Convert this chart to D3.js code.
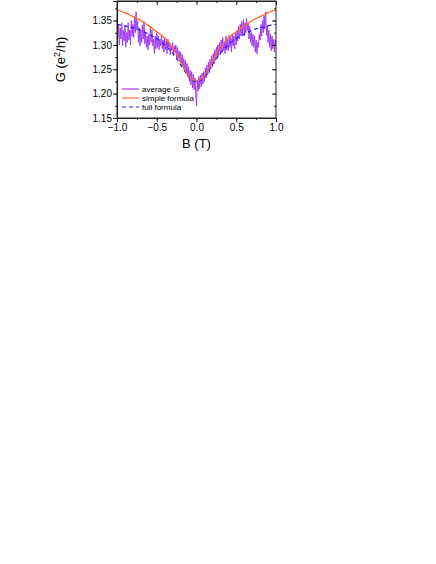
<!DOCTYPE html>
<html lang="en">
<head>
    <meta charset="UTF-8">
    <title>G vs B</title>
    <script src="https://d3js.org/d3.v7.min.js"></script>
    <style>
        body { margin: 0; background: #fff; font-family: "Liberation Sans", Arial, sans-serif; }
        .tick text { font-size: 10px; fill: #000; }
        .axis path, .axis line { stroke: #222; }
    </style>
</head>
<body>
<script>
    // measured trace, one value every 0.01 T from -1 to 1
    const bStep = 0.01;
    const avgG = [
        1.388, 1.315, 1.342, 1.300, 1.335, 1.312, 1.345, 1.298, 1.330, 1.308,
        1.338, 1.295, 1.325, 1.305, 1.345, 1.310, 1.330, 1.300, 1.350, 1.318,
        1.342, 1.315, 1.358, 1.325, 1.368, 1.330, 1.348, 1.305, 1.335, 1.298,
        1.330, 1.305, 1.340, 1.312, 1.348, 1.302, 1.325, 1.295, 1.318, 1.290,
        1.322, 1.300, 1.338, 1.305, 1.330, 1.298, 1.312, 1.282, 1.318, 1.292,
        1.325, 1.295, 1.318, 1.290, 1.312, 1.298, 1.320, 1.292, 1.310, 1.285,
        1.315, 1.290, 1.308, 1.282, 1.312, 1.295, 1.305, 1.280, 1.300, 1.288,
        1.305, 1.278, 1.298, 1.285, 1.300, 1.270, 1.295, 1.272, 1.288, 1.265,
        1.285, 1.258, 1.280, 1.255, 1.272, 1.245, 1.268, 1.240, 1.262, 1.235,
        1.255, 1.225, 1.248, 1.218, 1.245, 1.212, 1.240, 1.208, 1.232, 1.200,
        1.175, 1.228, 1.205, 1.235, 1.210, 1.238, 1.215, 1.242, 1.220, 1.245,
        1.225, 1.252, 1.232, 1.258, 1.238, 1.265, 1.242, 1.270, 1.250, 1.278,
        1.255, 1.282, 1.262, 1.290, 1.268, 1.295, 1.272, 1.300, 1.278, 1.305,
        1.280, 1.310, 1.285, 1.315, 1.288, 1.305, 1.282, 1.318, 1.290, 1.312,
        1.288, 1.320, 1.295, 1.315, 1.285, 1.322, 1.298, 1.318, 1.292, 1.325,
        1.300, 1.330, 1.308, 1.338, 1.312, 1.342, 1.318, 1.348, 1.322, 1.352,
        1.318, 1.345, 1.325, 1.355, 1.330, 1.345, 1.312, 1.338, 1.305, 1.325,
        1.298, 1.322, 1.295, 1.318, 1.285, 1.310, 1.282, 1.305, 1.295, 1.322,
        1.310, 1.342, 1.318, 1.350, 1.325, 1.360, 1.332, 1.368, 1.320, 1.340,
        1.305, 1.330, 1.295, 1.322, 1.288, 1.318, 1.292, 1.312, 1.285, 1.310, 1.300
    ];

    // model curves
    const fitB = [-1.0, -0.9, -0.8, -0.7, -0.6, -0.5, -0.4, -0.35, -0.3, -0.25, -0.2, -0.15, -0.1, -0.05, 0.0,
                  0.05, 0.1, 0.15, 0.2, 0.25, 0.3, 0.35, 0.4, 0.5, 0.6, 0.7, 0.8, 0.9, 1.0];
    const simpleG = [1.372, 1.366, 1.358, 1.350, 1.339, 1.327, 1.314, 1.305, 1.294, 1.281, 1.265, 1.250, 1.237, 1.229, 1.227,
                     1.229, 1.237, 1.250, 1.265, 1.281, 1.294, 1.305, 1.314, 1.327, 1.339, 1.350, 1.358, 1.366, 1.372];
    const fullG = [1.342, 1.339, 1.335, 1.330, 1.322, 1.313, 1.300, 1.292, 1.283, 1.272, 1.259, 1.247, 1.235, 1.227, 1.224,
                   1.227, 1.235, 1.247, 1.259, 1.272, 1.283, 1.292, 1.300, 1.313, 1.322, 1.330, 1.335, 1.339, 1.342];

    const xTicks = [-1.0, -0.5, 0.0, 0.5, 1.0];
    const yTicks = [1.15, 1.20, 1.25, 1.30, 1.35];

    const W = 436, H = 564;
    const m = {left: 117, right: 160, top: 1, bottom: 446};

    const svg = d3.select("body").append("svg")
        .attr("width", W).attr("height", H);

    const x = d3.scaleLinear().domain([-1, 1]).range([m.left, W - m.right]);
    const y = d3.scaleLinear().domain([1.15, 1.39]).range([H - m.bottom, m.top]);

    const avgData = avgG.map((g, i) => ({b: -1 + i * bStep, g: g}));
    const simpleData = fitB.map((b, i) => ({b: b, g: simpleG[i]}));
    const fullData = fitB.map((b, i) => ({b: b, g: fullG[i]}));

    svg.append("defs").append("clipPath").attr("id", "clip")
        .append("rect")
        .attr("x", x(-1)).attr("y", y(1.39))
        .attr("width", x(1) - x(-1)).attr("height", y(1.15) - y(1.39));

    const plot = svg.append("g").attr("clip-path", "url(#clip)");

    const line = d3.line().x(d => x(d.b)).y(d => y(d.g));
    const smooth = d3.line().x(d => x(d.b)).y(d => y(d.g)).curve(d3.curveMonotoneX);

    plot.append("path")
        .datum(avgData)
        .attr("d", line)
        .attr("fill", "none")
        .attr("stroke", "#a33cf5")
        .attr("stroke-width", 1);

    plot.append("path")
        .datum(fullData)
        .attr("d", smooth)
        .attr("fill", "none")
        .attr("stroke", "#2020ff")
        .attr("stroke-width", 1.2)
        .attr("stroke-dasharray", "4,3");

    plot.append("path")
        .datum(simpleData)
        .attr("d", smooth)
        .attr("fill", "none")
        .attr("stroke", "#ff6a20")
        .attr("stroke-width", 1.3);

    // axes
    const minorX = d3.range(-1, 1.001, 0.25);
    const minorY = d3.range(1.15, 1.39, 0.025);

    svg.append("g").attr("class", "axis")
        .attr("transform", `translate(0,${y(1.15)})`)
        .call(d3.axisBottom(x).tickValues(xTicks).tickSize(4).tickPadding(2)
            .tickFormat(d3.format(".1f")));
    svg.append("g").attr("class", "axis")
        .attr("transform", `translate(0,${y(1.15)})`)
        .call(d3.axisBottom(x).tickValues(minorX).tickSize(2).tickFormat(""));

    svg.append("g").attr("class", "axis")
        .attr("transform", `translate(${x(-1)},0)`)
        .call(d3.axisLeft(y).tickValues(yTicks).tickSize(4).tickPadding(1)
            .tickFormat(d3.format(".2f")));
    svg.append("g").attr("class", "axis")
        .attr("transform", `translate(${x(-1)},0)`)
        .call(d3.axisLeft(y).tickValues(minorY).tickSize(2).tickFormat(""));

    svg.append("g").attr("class", "axis")
        .attr("transform", `translate(${x(1)},0)`)
        .call(d3.axisLeft(y).tickValues(yTicks).tickSize(4).tickFormat(""))
        .call(g => g.select(".domain").remove());
    svg.append("g").attr("class", "axis")
        .attr("transform", `translate(${x(1)},0)`)
        .call(d3.axisLeft(y).tickValues(minorY).tickSize(2).tickFormat(""))
        .call(g => g.select(".domain").remove());

    svg.append("g").attr("class", "axis")
        .attr("transform", `translate(0,${y(1.39)})`)
        .call(d3.axisBottom(x).tickValues(xTicks).tickSize(4).tickFormat(""));
    svg.append("g").attr("class", "axis")
        .attr("transform", `translate(0,${y(1.39)})`)
        .call(d3.axisBottom(x).tickValues(minorX).tickSize(2).tickFormat(""));

    svg.append("rect")
        .attr("x", x(-1)).attr("y", y(1.39))
        .attr("width", x(1) - x(-1)).attr("height", y(1.15) - y(1.39))
        .attr("fill", "none").attr("stroke", "#222").attr("stroke-width", 1);

    // axis titles
    svg.append("text")
        .attr("x", (x(-1) + x(1)) / 2).attr("y", 148)
        .attr("text-anchor", "middle")
        .style("font-size", "13px")
        .text("B (T)");

    const yl = svg.append("text")
        .attr("transform", `translate(65,${(y(1.15) + y(1.39)) / 2}) rotate(-90)`)
        .attr("text-anchor", "middle")
        .style("font-size", "13px");
    yl.append("tspan").text("G (e");
    yl.append("tspan").attr("dy", -5).style("font-size", "9px").text("2");
    yl.append("tspan").attr("dy", 5).text("/h)");

    // legend
    const legend = [
        {name: "average G", color: "#a33cf5", dash: null},
        {name: "simple formula", color: "#ff6a20", dash: null},
        {name: "full formula", color: "#2020ff", dash: "4,3"}
    ];
    const lg = svg.append("g").attr("transform", "translate(122,89)");
    legend.forEach((d, i) => {
        lg.append("line")
            .attr("x1", 0).attr("x2", 17)
            .attr("y1", i * 9).attr("y2", i * 9)
            .attr("stroke", d.color).attr("stroke-width", 1.2)
            .attr("stroke-dasharray", d.dash);
        lg.append("text")
            .attr("x", 20).attr("y", i * 9 + 3)
            .style("font-size", "8px")
            .text(d.name);
    });
</script>
</body>
</html>
